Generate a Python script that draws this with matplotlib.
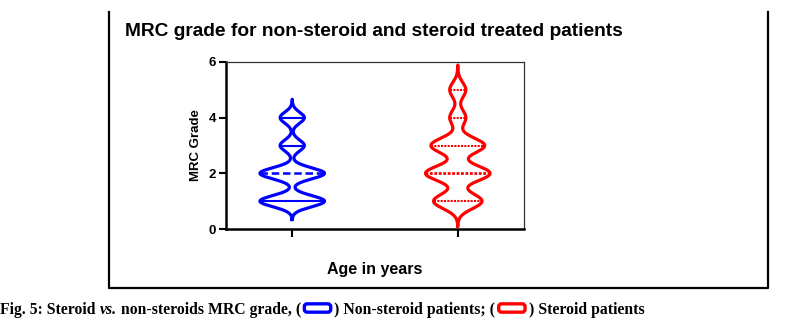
import numpy as np
import matplotlib
matplotlib.use('Agg')
import matplotlib.pyplot as plt
from matplotlib.lines import Line2D
from matplotlib.patches import FancyBboxPatch
from matplotlib.offsetbox import TextArea, DrawingArea, HPacker, AnchoredOffsetbox

# MRC grade distribution per group (grade -> number of patients)
grades_non = [1, 2, 3, 4]
counts_non = [8, 8, 3, 3]
grades_ster = [1, 2, 3, 4, 5]
counts_ster = [9, 12, 10, 3, 3]

# lines drawn across each violin
lines_non = [1, 2, 3, 4]
lines_ster = [1, 2, 3, 4, 5]
median_non = 2
median_ster = 2

group_pos = [0, 1]
colors = ['#0000ff', '#ff0000']
bandwidths = [0.2, 0.27]


def kde(data, bw, cut=3.3):
    y = np.linspace(data.min() - cut * bw, data.max() + cut * bw, 400)
    d = np.exp(-0.5 * ((y[:, None] - data[None, :]) / bw) ** 2).sum(axis=1)
    return y, d


def half_width(y, d, val, maxw):
    return np.interp(val, y, d) / d.max() * maxw


def violin(ax, x0, grades, counts, bw, color, lines, median, dotted):
    data = np.repeat(grades, counts).astype(float)
    y, d = kde(data, bw)
    maxw = 0.195
    w = d / d.max() * maxw
    ax.plot(np.r_[x0 - w, (x0 + w)[::-1], x0 - w[0]], np.r_[y, y[::-1], y[0]],
            color=color, lw=2.3, solid_joinstyle='round')
    for v in lines:
        hw = half_width(y, d, v, maxw)
        if dotted:
            lw = 2.0 if v == median else 1.5
            ax.plot([x0 - hw, x0 + hw], [v, v], color=color, lw=lw, ls=(0, (1, 0.6)))
        elif v == median:
            ax.plot([x0 - hw, x0 + hw], [v, v], color=color, lw=1.8, ls=(0, (3, 1.5)))
        else:
            ax.plot([x0 - hw, x0 + hw], [v, v], color=color, lw=1.5)


fig = plt.figure(figsize=(7.91, 3.26), dpi=100)
ax = fig.add_axes([226 / 791, 1 - 229 / 326, 298 / 791, 167 / 326])

violin(ax, group_pos[0], grades_non, counts_non, bandwidths[0], colors[0],
       lines_non, median_non, False)
violin(ax, group_pos[1], grades_ster, counts_ster, bandwidths[1], colors[1],
       lines_ster, median_ster, True)

ax.set_xlim(-0.4, 1.4)
ax.set_ylim(0, 6)
ax.set_yticks([0, 2, 4, 6])
ax.set_xticks(group_pos)
ax.set_xticklabels([])
for s in ['left', 'bottom']:
    ax.spines[s].set_linewidth(1.8)
for s in ['top', 'right']:
    ax.spines[s].set_linewidth(0.9)
    ax.spines[s].set_color('#333333')
ax.tick_params(axis='y', width=1.5, length=5, labelsize=9.5, pad=2)
ax.tick_params(axis='x', width=1.5, length=6)
for t in ax.get_yticklabels():
    t.set_fontfamily('Liberation Sans')
    t.set_fontweight('bold')
ax.set_ylabel('MRC Grade', fontsize=9.5, fontweight='bold',
              fontfamily='Liberation Sans', labelpad=5)
ax.set_xlabel('Age in years', fontsize=11.5, fontweight='bold',
              fontfamily='Liberation Sans', labelpad=14)

fig.text(125 / 791, 1 - 32 / 326, 'MRC grade for non-steroid and steroid treated patients',
         fontsize=13.8, fontweight='bold', fontfamily='Liberation Sans', va='center')

# outer frame (open at the top)
fx = [109 / 791, 109 / 791, 768 / 791, 768 / 791]
fy = [1 - 12 / 326, 1 - 288 / 326, 1 - 288 / 326, 1 - 12 / 326]
fig.add_artist(Line2D(fx, fy, color='black', lw=1.6, transform=fig.transFigure))

# caption with small legend boxes
cap = dict(fontfamily='Liberation Serif', fontweight='bold', fontsize=11.3)


def swatch(color):
    da = DrawingArea(24, 10, 0, 1)
    da.add_artist(FancyBboxPatch((3, 2), 18, 5, boxstyle='round,pad=0.5,rounding_size=2',
                                 fc='white', ec=color, lw=2.4))
    return da


parts = [
    TextArea('Fig. 5: Steroid ', textprops=cap),
    TextArea('vs.', textprops=dict(cap, fontstyle='italic')),
    TextArea(' non-steroids MRC grade, (', textprops=cap),
    swatch(colors[0]),
    TextArea(') Non-steroid patients; (', textprops=cap),
    swatch(colors[1]),
    TextArea(') Steroid patients', textprops=cap),
]
box = HPacker(children=parts, align='baseline', pad=0, sep=0)
anch = AnchoredOffsetbox(loc='center left', child=box, pad=0, borderpad=0, frameon=False,
                         bbox_to_anchor=(0.0, 1 - 310 / 326), bbox_transform=fig.transFigure)
fig.add_artist(anch)

fig.savefig('out.png', dpi=100)
